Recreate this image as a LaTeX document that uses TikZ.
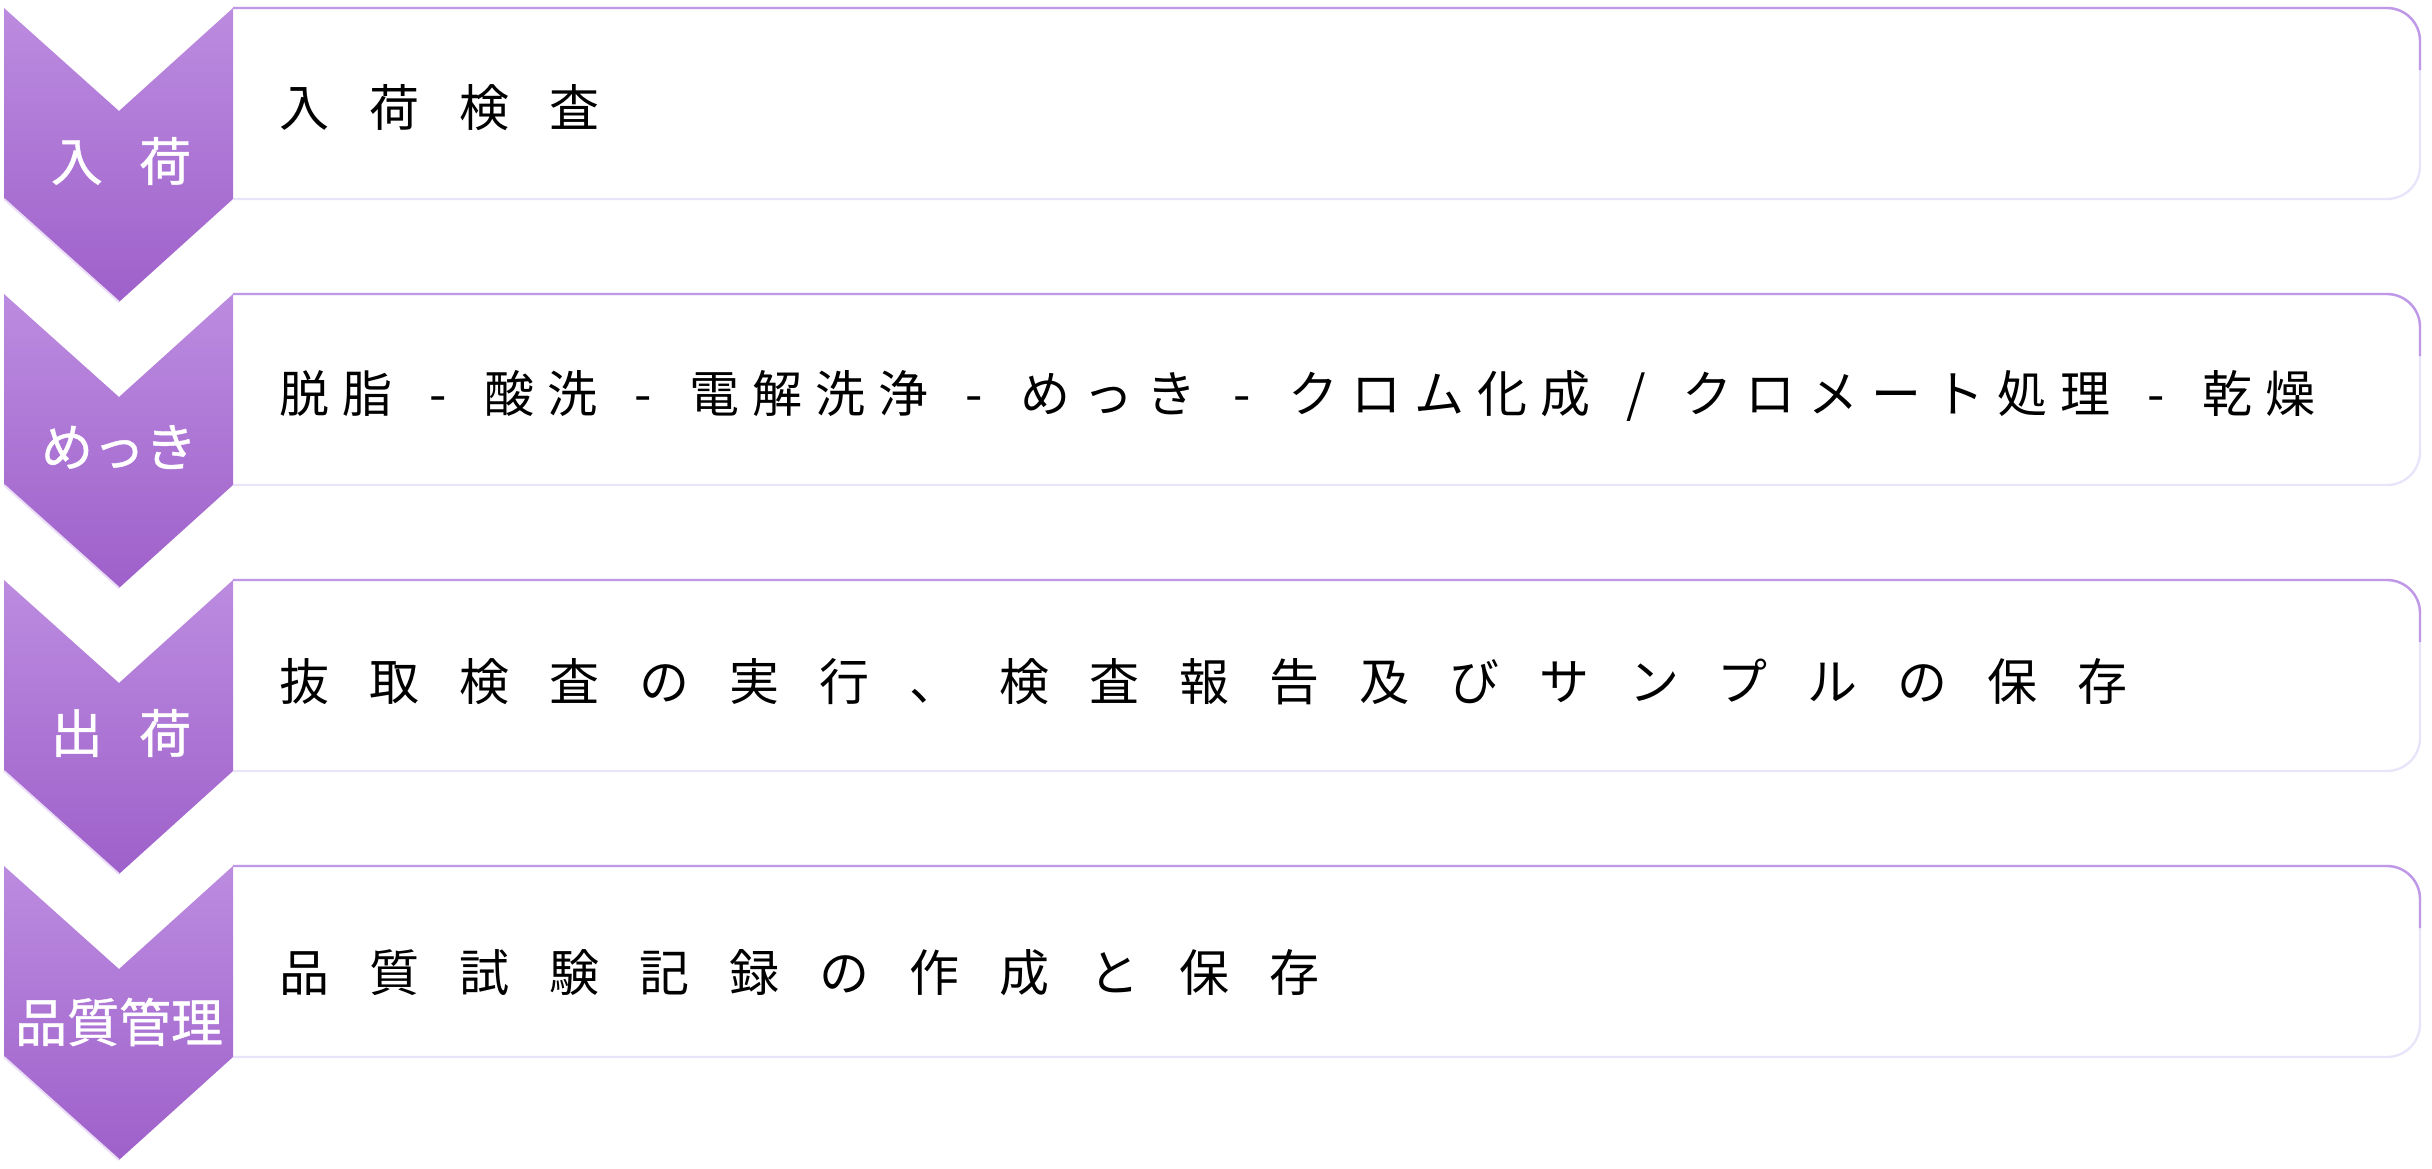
\documentclass[tikz,border=0pt]{standalone}
\usepackage{fontspec}
\newfontfamily\jpfont[FakeBold=0.8]{Noto Sans CJK JP}
\newfontfamily\jpwide[LetterSpace=80]{Noto Sans CJK JP}
\newfontfamily\jpnarrow[LetterSpace=26]{Noto Sans CJK JP}
\newcommand\sepmark[1]{\makebox[46pt]{#1}}
\definecolor{chevtop}{RGB}{188,140,224}
\definecolor{chevbot}{RGB}{158,96,202}
\definecolor{edgetop}{RGB}{192,152,232}
\definecolor{edgebot}{RGB}{234,228,250}
\begin{document}
\begin{tikzpicture}[x=0.5pt,y=0.5pt,
  chevron/.style={top color=chevtop,bottom color=chevbot},
  bevel/.style={draw=white!70!chevtop,line width=1pt},
  boxline/.style={draw=edgebot,line width=1.2pt,fill=white},
  boxtop/.style={draw=edgetop,line width=1.2pt},
  tag/.style={text=white,inner sep=0pt,font=\jpfont\fontsize{26}{30}\selectfont},
  task/.style={anchor=west,inner sep=0pt,text=black,font=\jpwide\fontsize{25}{30}\selectfont},
  dense/.style={task,font=\jpnarrow\fontsize{25}{30}\selectfont}]
\useasboundingbox (0,0) rectangle (2432,-1168);
% boxes
\draw[boxline] (233,-8) -- (2387,-8) arc[start angle=90,end angle=0,radius=33] -- (2420,-166) arc[start angle=0,end angle=-90,radius=33] -- (233,-199);
\draw[boxtop] (233,-8) -- (2387,-8) arc[start angle=90,end angle=0,radius=33] -- (2420,-70);
\draw[boxline] (233,-294) -- (2387,-294) arc[start angle=90,end angle=0,radius=33] -- (2420,-452) arc[start angle=0,end angle=-90,radius=33] -- (233,-485);
\draw[boxtop] (233,-294) -- (2387,-294) arc[start angle=90,end angle=0,radius=33] -- (2420,-356);
\draw[boxline] (233,-580) -- (2387,-580) arc[start angle=90,end angle=0,radius=33] -- (2420,-738) arc[start angle=0,end angle=-90,radius=33] -- (233,-771);
\draw[boxtop] (233,-580) -- (2387,-580) arc[start angle=90,end angle=0,radius=33] -- (2420,-642);
\draw[boxline] (233,-866) -- (2387,-866) arc[start angle=90,end angle=0,radius=33] -- (2420,-1024) arc[start angle=0,end angle=-90,radius=33] -- (233,-1057);
\draw[boxtop] (233,-866) -- (2387,-866) arc[start angle=90,end angle=0,radius=33] -- (2420,-928);
% chevrons
\path[chevron] (4,-8) -- (119,-111) -- (233,-8) -- (233,-199) -- (119,-302) -- (4,-199) -- cycle;
\draw[bevel] (4,-199) -- (119,-302);
\path[chevron] (4,-294) -- (119,-397) -- (233,-294) -- (233,-485) -- (119,-588) -- (4,-485) -- cycle;
\draw[bevel] (4,-485) -- (119,-588);
\path[chevron] (4,-580) -- (119,-683) -- (233,-580) -- (233,-771) -- (119,-874) -- (4,-771) -- cycle;
\draw[bevel] (4,-771) -- (119,-874);
\path[chevron] (4,-866) -- (119,-969) -- (233,-866) -- (233,-1057) -- (119,-1160) -- (4,-1057) -- cycle;
\draw[bevel] (4,-1057) -- (119,-1160);
% labels
\node[tag] (tag1) at (121,-161) {入\hspace{.7em}荷};
\node[tag] (tag2) at (119,-447) {めっき};
\node[tag] (tag3) at (121,-733) {出\hspace{.7em}荷};
\node[tag] (tag4) at (119,-1022) {品質管理};
\node[task] (task1) at (279,-108) {入荷検査};
\node[dense] (task2) at (279,-396) {脱脂\sepmark{-}酸洗\sepmark{-}電解洗浄\sepmark{-}めっき\sepmark{-}クロム化成\sepmark{/}クロメート処理\sepmark{-}乾燥};
\node[task] (task3) at (279,-682) {抜取検査の実行、検査報告及びサンプルの保存};
\node[task] (task4) at (279,-973) {品質試験記録の作成と保存};
\end{tikzpicture}
\end{document}
